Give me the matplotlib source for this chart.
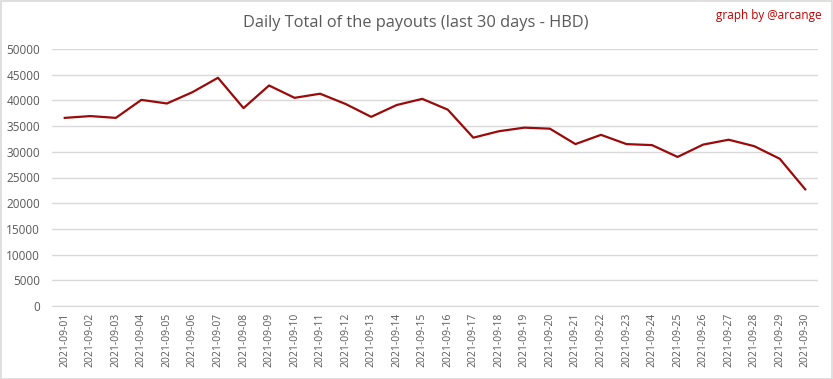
import matplotlib
matplotlib.use("Agg")
import matplotlib.pyplot as plt

dates = ["2021-09-%02d" % d for d in range(1, 31)]
payouts = [36600, 36950, 36600, 40100, 39400, 41600, 44400, 38500, 42900, 40500,
           41300, 39300, 36800, 39100, 40300, 38200, 32750, 34000, 34700, 34500,
           31500, 33300, 31500, 31300, 29000, 31400, 32350, 31100, 28650, 22700]
yticks = list(range(0, 50001, 5000))

W, H = 833, 379
fig = plt.figure(figsize=(W / 100, H / 100), dpi=100)
fig.patch.set_facecolor("white")

ax = fig.add_axes([52 / W, 1 - 306 / H, (818 - 52) / W, (306 - 49) / H])
x = list(range(len(dates)))
ax.plot(x, payouts, color="#9b0a0a", lw=1.6, solid_joinstyle="round")
ax.set_xlim(-0.5, len(dates) - 0.5)
ax.set_ylim(0, 50000)
ax.set_yticks(yticks)
ax.set_yticklabels([str(v) for v in yticks], fontsize=8.5, color="#595959", family="Open Sans")
ax.set_xticks(x)
ax.set_xticklabels(dates, rotation=90, fontsize=7.5, color="#595959", family="Open Sans")
ax.tick_params(axis="y", length=0, pad=8.5)
ax.tick_params(axis="x", length=0, pad=5)
ax.grid(axis="y", color="#d9d9d9", lw=1)
ax.set_axisbelow(True)
for s in ["top", "right", "left"]:
    ax.spines[s].set_visible(False)
ax.spines["bottom"].set_color("#d9d9d9")

fig.text(416 / W, 1 - 23 / H, "Daily Total of the payouts (last 30 days - HBD)",
         ha="center", va="center", fontsize=11.8, color="#595959", family="Open Sans")
fig.text(822 / W, 1 - 15 / H, "graph by @arcange", ha="right", va="center",
         fontsize=8.5, color="#c00000", family="Open Sans")

border = plt.Rectangle((0.5 / W, 0.5 / H), 1 - 1.5 / W, 1 - 1.5 / H, transform=fig.transFigure,
                       fill=False, edgecolor="#d9d9d9", lw=1.2)
fig.patches.append(border)

fig.savefig("out.png", dpi=100)
